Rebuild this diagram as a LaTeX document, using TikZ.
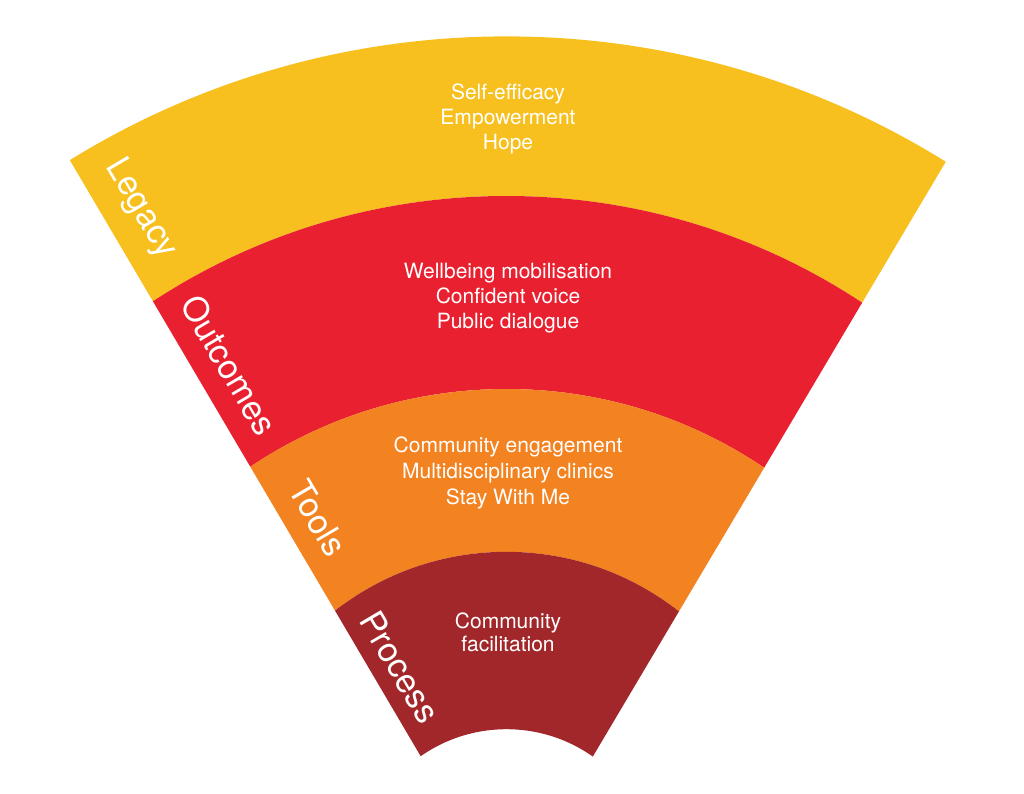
\documentclass[tikz,border=0pt]{standalone}
\usepackage{fontspec}
\setmainfont{TeX Gyre Heros}
\definecolor{legacyc}{RGB}{247,192,30}
\definecolor{outcomec}{RGB}{233,32,47}
\definecolor{toolc}{RGB}{243,130,33}
\definecolor{processc}{RGB}{162,39,42}
\tikzset{
  bodytxt/.style={text=white, font=\fontsize{21}{25}\selectfont, anchor=base, inner sep=0pt},
  sidelbl/.style={text=white, font=\fontsize{34}{40}\selectfont, rotate=-59.5, inner sep=0pt, anchor=center},
  band/.style={even odd rule}
}
\begin{document}
\begin{tikzpicture}[x=1pt,y=-1pt]
\useasboundingbox (0,0) rectangle (1024,794);
\begin{scope}
  \clip (506.5,902) -- (-83.3,-100) -- (1101.1,-100) -- cycle;
  \fill[legacyc, band] (506.5,868) circle[radius=831.6] (506.5,841.8) circle[radius=645.8];
  \fill[outcomec, band] (506.5,841.8) circle[radius=645.8] (506.5,849.7) circle[radius=460.7];
  \fill[toolc, band] (506.5,849.7) circle[radius=460.7] (506.5,831) circle[radius=279.2];
  \fill[processc, band] (506.5,831) circle[radius=279.2] (506.5,879) circle[radius=149.8];
\end{scope}
% band texts
\node[bodytxt] (l1) at (508,100) {Self-efficacy};
\node[bodytxt] (l2) at (508,125) {Empowerment};
\node[bodytxt] (l3) at (508,150) {Hope};
\node[bodytxt] (o1) at (508,278) {Wellbeing mobilisation};
\node[bodytxt] (o2) at (508,303) {Confident voice};
\node[bodytxt] (o3) at (508,328) {Public dialogue};
\node[bodytxt] (t1) at (508,452) {Community engagement};
\node[bodytxt] (t2) at (508,478) {Multidisciplinary clinics};
\node[bodytxt] (t3) at (508,504) {Stay With Me};
\node[bodytxt] (p1) at (508,628) {Community};
\node[bodytxt] (p2) at (508,651) {facilitation};
% side labels
\node[sidelbl] (legacy) at (141,209) {Legacy};
\node[sidelbl] (outcomes) at (229,365) {Outcomes};
\node[sidelbl] (tools) at (318,518) {Tools};
\node[sidelbl] (process) at (400,667) {Process};
\end{tikzpicture}
\end{document}
